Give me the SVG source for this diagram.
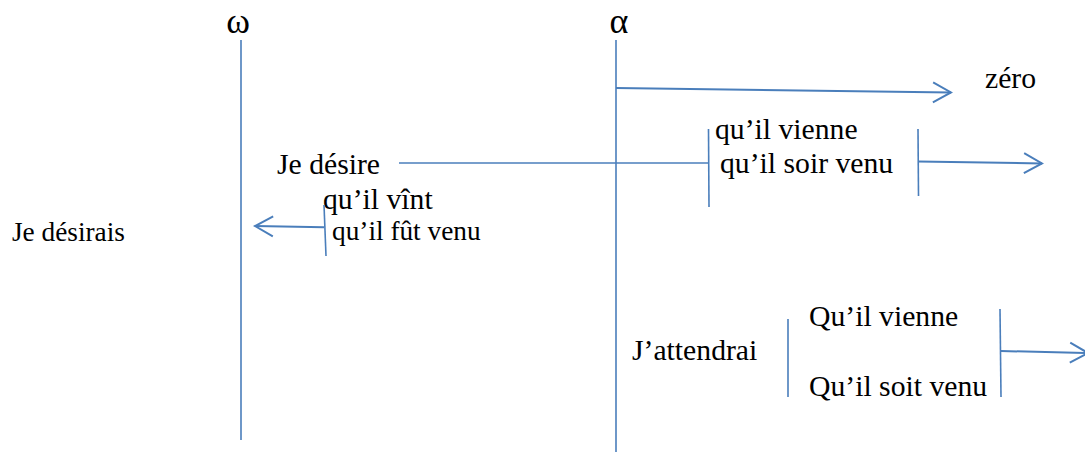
<svg xmlns="http://www.w3.org/2000/svg" width="1085" height="452" viewBox="0 0 1085 452">
<style>
.t{font-family:'Liberation Serif','DejaVu Serif',serif;fill:#000;font-size:29.7px}
.s{font-size:27.3px}
.g{font-size:36px}
.ln{stroke:#4A7EBB;stroke-width:1.6;fill:none}
.ar{stroke:#4A7EBB;stroke-width:2;fill:none}
</style>
<defs>
<marker id="arr" markerUnits="userSpaceOnUse" viewBox="0 0 22 24" markerWidth="22" markerHeight="24" refX="20" refY="12" orient="auto">
<path d="M2,2 L20,12 L2,22" fill="none" stroke="#4A7EBB" stroke-width="2"/>
</marker>
</defs>
<g id="omega"><text class="t g" x="238" y="33" text-anchor="middle">ω</text></g>
<g id="alpha"><text class="t g" x="619" y="33" text-anchor="middle">α</text></g>
<g id="zero"><text class="t" x="985" y="88">zéro</text></g>
<g id="je-desire"><text class="t" x="277" y="174">Je désire</text></g>
<g id="present"><text class="t" x="715" y="139">qu’il vienne</text><text class="t" x="720" y="173">qu’il soir venu</text></g>
<g id="passe"><text class="t" x="323" y="209">qu’il vînt</text><text class="t s" x="332" y="240">qu’il fût venu</text></g>
<g id="je-desirais"><text class="t s" x="12" y="241">Je désirais</text></g>
<g id="jattendrai"><text class="t" x="632" y="360">J’attendrai</text></g>
<g id="futur"><text class="t" x="809" y="326">Qu’il vienne</text><text class="t" x="809" y="396">Qu’il soit venu</text></g>
<g id="connectors">
<line class="ln" x1="241" y1="40" x2="241" y2="440"/>
<line class="ln" x1="616" y1="40" x2="616" y2="452"/>
<line class="ar" x1="616" y1="88" x2="951" y2="92.5" marker-end="url(#arr)"/>
<line class="ln" x1="399" y1="163" x2="708" y2="163"/>
<line class="ln" x1="708.5" y1="129" x2="709" y2="207"/>
<line class="ln" x1="918" y1="129" x2="918.5" y2="196"/>
<line class="ar" x1="918" y1="161.5" x2="1042" y2="163.5" marker-end="url(#arr)"/>
<line class="ln" x1="324" y1="205" x2="326" y2="256"/>
<line class="ar" x1="324" y1="227.3" x2="255" y2="226" marker-end="url(#arr)"/>
<line class="ln" x1="788" y1="319" x2="788" y2="397"/>
<line class="ln" x1="1000" y1="309" x2="1001" y2="397"/>
<line class="ar" x1="1001" y1="351" x2="1088" y2="353" marker-end="url(#arr)"/>
</g>
</svg>
